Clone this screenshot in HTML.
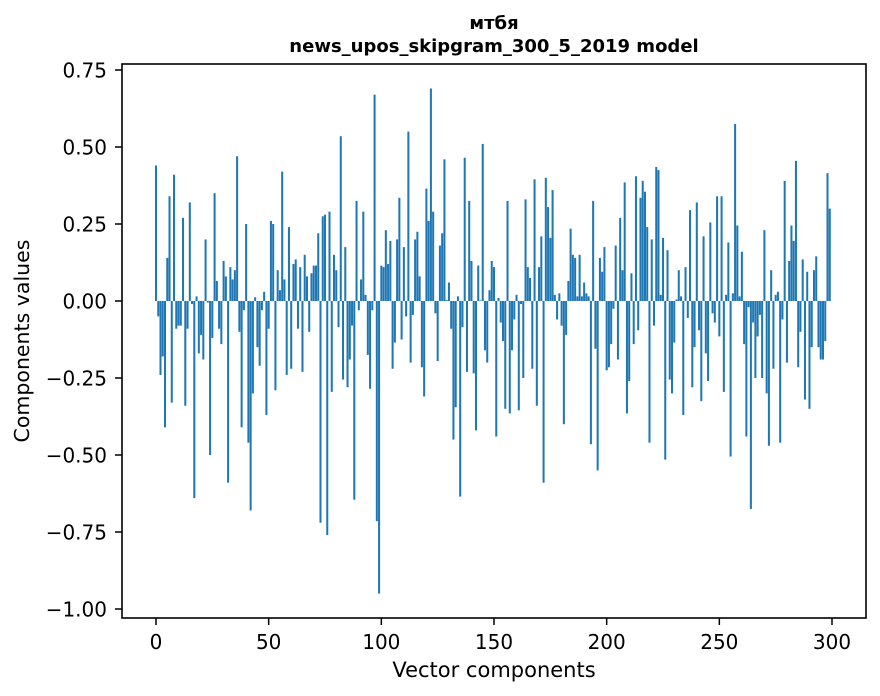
<!DOCTYPE html>
<html><head><meta charset="utf-8"><style>
body{margin:0;background:#fff;}
svg{display:block;font-family:"DejaVu Sans","Liberation Sans",sans-serif;}
</style></head><body>
<svg id="chart" width="880" height="696" viewBox="0 0 880 696" xmlns="http://www.w3.org/2000/svg">
<text x="494" y="29" text-anchor="middle" font-size="18" font-weight="bold">мтбя</text>
<text x="494" y="52" text-anchor="middle" font-size="18" font-weight="bold">news_upos_skipgram_300_5_2019 model</text>
<g id="bars"></g>
<g id="xticks"></g>
<g id="yticks"></g>
<rect x="122" y="64" width="744" height="554" fill="none" stroke="#000" stroke-width="1.6"/>
<text x="494" y="677" text-anchor="middle" font-size="21">Vector components</text>
<text transform="translate(29,341) rotate(-90)" text-anchor="middle" font-size="20.5">Components values</text>
</svg>
<script>
const values = [
0.44,-0.05,-0.24,-0.18,-0.41,0.14,0.34,-0.33,0.41,-0.09,
-0.08,-0.08,0.27,-0.34,-0.09,0.32,-0.01,-0.64,0.015,-0.17,
-0.11,-0.19,0.20,-0.005,-0.50,-0.12,0.35,0.065,-0.09,-0.14,
0.13,0.08,-0.59,0.11,0.07,0.10,0.47,-0.10,-0.41,-0.03,
0.25,-0.46,-0.68,-0.30,0.012,-0.15,-0.21,-0.03,0.03,-0.37,
-0.09,0.26,0.25,-0.29,0.10,0.035,0.42,0.07,-0.24,0.24,
-0.22,0.12,0.135,-0.09,0.11,-0.23,0.15,0.08,-0.10,0.09,
0.115,0.115,0.22,-0.72,0.275,0.28,-0.76,0.29,-0.295,0.15,
0.10,-0.085,0.535,-0.255,0.175,-0.28,-0.19,-0.08,-0.645,0.325,
-0.03,0.07,0.29,0.02,-0.175,-0.285,-0.03,0.67,-0.715,-0.95,
0.115,0.11,0.23,0.12,0.195,-0.22,-0.135,0.20,0.335,-0.125,
0.175,-0.05,0.55,-0.20,-0.045,0.20,0.225,0.08,-0.215,-0.31,
0.365,0.26,0.69,0.29,-0.04,-0.195,0.18,0.22,0.46,0.003,
0.06,-0.09,-0.45,-0.345,0.015,-0.635,-0.085,0.465,-0.23,0.325,
0.13,-0.235,-0.42,0.115,0.002,0.51,-0.16,-0.20,0.035,0.13,
0.11,-0.44,0.01,-0.07,-0.13,-0.35,0.325,-0.365,-0.16,-0.06,
0.02,-0.355,-0.01,-0.25,0.33,0.11,0.075,-0.22,0.395,-0.34,
0.11,0.21,-0.59,0.40,0.305,0.205,0.36,0.02,-0.06,0.025,
-0.08,-0.40,-0.11,0.065,0.235,0.15,0.14,0.015,0.15,0.015,
0.06,0.025,0.015,-0.465,0.325,-0.155,-0.55,0.14,0.095,0.175,
-0.225,-0.215,-0.14,-0.025,0.18,-0.19,0.27,0.10,0.385,-0.365,
-0.26,0.09,-0.14,0.405,-0.095,0.335,0.39,0.355,0.24,-0.46,
0.20,-0.08,0.435,0.425,0.02,0.205,-0.515,0.165,-0.255,-0.30,
-0.135,0.005,0.10,0.015,-0.37,0.11,-0.055,0.295,-0.28,-0.15,
0.32,-0.095,-0.325,0.21,-0.17,-0.26,0.255,-0.04,-0.07,0.34,
-0.115,0.34,-0.295,0.02,0.19,-0.505,0.025,0.575,0.245,0.015,
0.16,-0.14,-0.44,-0.02,-0.675,-0.07,-0.25,-0.115,-0.045,-0.25,
0.23,-0.30,-0.47,0.10,-0.22,0.02,0.03,-0.46,-0.06,0.39,
-0.20,0.13,0.245,0.195,0.455,-0.215,-0.10,0.135,-0.32,0.095,
-0.35,-0.15,0.10,0.145,-0.15,-0.19,-0.19,-0.13,0.415,0.30
];
const xTickValues = [0,50,100,150,200,250,300];
const xTickLabels = ["0","50","100","150","200","250","300"];
const yTickValues = [0.75,0.5,0.25,0,-0.25,-0.5,-0.75,-1.0];
const yTickLabels = ["0.75","0.50","0.25","0.00","\u22120.25","\u22120.50","\u22120.75","\u22121.00"];

const NS = "http://www.w3.org/2000/svg";
function xScale(v){ return 156 + v * (676/300); }
function yScale(v){ return 301 - v * 308; }
const bw = 0.9 * (676/300);
const barsG = document.getElementById('bars');
values.forEach((v,i)=>{
  const r = document.createElementNS(NS,'rect');
  
  
  const y0 = yScale(0), y1 = yScale(v);
  r.setAttribute('x', xScale(i) - bw/2);
  r.setAttribute('y', Math.min(y0,y1));
  r.setAttribute('width', bw);
  r.setAttribute('height', Math.max(Math.abs(y1-y0),0.3));
  r.setAttribute('fill', '#1f77b4');
  barsG.appendChild(r);
});
const xg = document.getElementById('xticks');
xTickValues.forEach((v,i)=>{
  const x = xScale(v);
  const l = document.createElementNS(NS,'line');
  
  
  l.setAttribute('x1',x);l.setAttribute('x2',x);l.setAttribute('y1',618);l.setAttribute('y2',625);
  l.setAttribute('stroke','#000');l.setAttribute('stroke-width','1.5');
  xg.appendChild(l);
  const t = document.createElementNS(NS,'text');
  
  
  t.setAttribute('x',x);t.setAttribute('y',649);t.setAttribute('text-anchor','middle');t.setAttribute('font-size','20');
  t.textContent = xTickLabels[i];
  xg.appendChild(t);
});
const yg = document.getElementById('yticks');
yTickValues.forEach((v,i)=>{
  const y = yScale(v);
  const l = document.createElementNS(NS,'line');
  
  
  l.setAttribute('x1',115);l.setAttribute('x2',122);l.setAttribute('y1',y);l.setAttribute('y2',y);
  l.setAttribute('stroke','#000');l.setAttribute('stroke-width','1.5');
  yg.appendChild(l);
  const t = document.createElementNS(NS,'text');
  
  
  t.setAttribute('x',107);t.setAttribute('y',y+7.5);t.setAttribute('text-anchor','end');t.setAttribute('font-size','20');
  t.textContent = yTickLabels[i];
  yg.appendChild(t);
});
</script>
</body></html>
